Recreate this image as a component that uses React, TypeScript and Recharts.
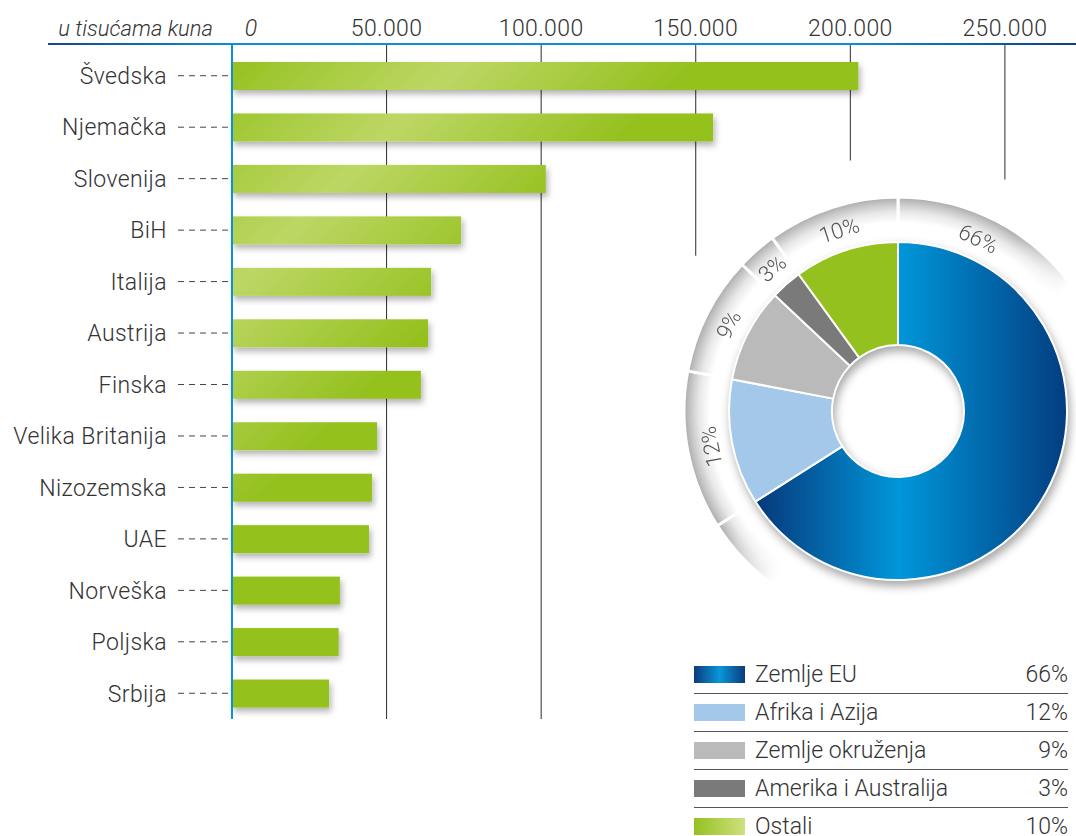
import React from "react";
import { BarChart, Bar, XAxis, YAxis, CartesianGrid, PieChart, Pie, Cell } from "recharts";

// izvoz po zemljama, u tisućama kuna
const countries = [
  "Švedska",
  "Njemačka",
  "Slovenija",
  "BiH",
  "Italija",
  "Austrija",
  "Finska",
  "Velika Britanija",
  "Nizozemska",
  "UAE",
  "Norveška",
  "Poljska",
  "Srbija",
];
const exportValues = [202600, 155600, 101500, 74100, 64400, 63400, 61100, 46900, 45300, 44300, 34900, 34500, 31400];
const xTicks = [0, 50000, 100000, 150000, 200000, 250000];
const axisTitle = "u tisućama kuna";

// udio po regijama
const regions = ["Zemlje EU", "Afrika i Azija", "Zemlje okruženja", "Amerika i Australija", "Ostali"];
const regionShares = [66, 12, 9, 3, 10];

const FONT = '"Roboto", "Liberation Sans", sans-serif';
const TEXT = "#333333";

const sliceFills = ["url(#euGrad)", "#a4c8ea", "#bababa", "#7a7a7a", "#95c11f"];
const swatches = [
  "linear-gradient(90deg, #0b3b7d 0%, #0a96d9 50%, #0b3b7d 100%)",
  "#a4c8ea",
  "#bababa",
  "#7a7a7a",
  "linear-gradient(90deg, #95c11f 0%, #cfe07f 100%)",
];

const barData = countries.map((name, i) => ({ name, value: exportValues[i] }));
const pieData = regions.map((name, i) => ({ name, value: regionShares[i] }));

// donut placement on the page
const PIE_CX = 898;
const PIE_CY = 411;
const PIE_BOX = 460;
const GAP_R = 255; // grid lines stop short of the donut
const CHART_W = 1076;

const fmt = (v: number) => v.toString().replace(/\B(?=(\d{3})+(?!\d))/g, ".");

const TopTick = ({ x, y, payload }: any) => {
  const first = payload.value === 0;
  if (first) {
    return (
      <g>
        <text x={x - 19} y={y - 8} textAnchor="end" fontStyle="italic" fontSize={22} fill={TEXT} fontFamily={FONT} fontWeight={300}>
          {axisTitle}
        </text>
        <text x={x + 19} y={y - 8} textAnchor="middle" fontStyle="italic" fontSize={23} fill={TEXT} fontFamily={FONT} fontWeight={300}>
          {fmt(payload.value)}
        </text>
      </g>
    );
  }
  return (
    <text x={x} y={y - 8} textAnchor="middle" fontSize={23} letterSpacing={0.4} fill={TEXT} fontFamily={FONT} fontWeight={300}>
      {fmt(payload.value)}
    </text>
  );
};

const CountryTick = ({ x, y, payload }: any) => (
  <g>
    <text
      x={x - 65}
      y={y}
      dy="0.36em"
      textAnchor="end"
      fontSize={23}
      letterSpacing={0.4}
      fill={TEXT}
      fontFamily={FONT}
      fontWeight={300}
    >
      {payload.value}
    </text>
    <line x1={x - 54} x2={x - 4} y1={y} y2={y} stroke="#444" strokeWidth={1} strokeDasharray="6 5" />
  </g>
);

const GridLine = (props: any) => {
  const { x1, x2, y1, y2 } = props;
  // no line on the right border of the plot
  if (x1 >= CHART_W - 2) return <g />;
  const dx = x1 - PIE_CX;
  let end = y2;
  if (Math.abs(dx) < GAP_R) end = Math.min(y2, PIE_CY - Math.sqrt(GAP_R * GAP_R - dx * dx));
  return <line x1={x1} x2={x2} y1={y1} y2={end} stroke="#2b2b2b" strokeWidth={1} />;
};

const BarShape = (props: any) => {
  const { x, y, width, height } = props;
  return <rect x={x} y={y} width={width} height={height} fill="url(#barGrad)" filter="url(#barShadow)" />;
};

const renderShareLabel = (props: any) => {
  const { cx, cy, midAngle, startAngle, percent, index } = props;
  // the big slice keeps its label near the top, where the ring is still visible
  const angle = percent > 0.5 ? startAngle - 25 : midAngle;
  const rad = (angle * Math.PI) / 180;
  const r = 190;
  const x = cx + r * Math.cos(rad);
  const y = cy - r * Math.sin(rad);
  return (
    <text
      x={x}
      y={y}
      textAnchor="middle"
      dominantBaseline="central"
      transform={`rotate(${90 - angle} ${x} ${y})`}
      fontSize={22}
      fill="#555"
      fontFamily={FONT}
      fontWeight={300}
    >
      {regionShares[index]}%
    </text>
  );
};

export default function App() {
  const ringMask = "linear-gradient(135deg, #000 0%, #000 44%, transparent 55%)";
  return (
    <div
      style={{
        position: "absolute",
        left: 0,
        top: 0,
        width: CHART_W,
        height: 836,
        overflow: "hidden",
        background: "#fff",
        fontFamily: FONT,
      }}
    >
      <div style={{ position: "absolute", left: 0, top: 0 }}>
        <BarChart
          width={CHART_W}
          height={836}
          data={barData}
          layout="vertical"
          margin={{ top: 14, right: 0, bottom: 117, left: 0 }}
          barSize={28}
        >
          <defs>
            <linearGradient id="barGrad" gradientUnits="userSpaceOnUse" x1="0" y1="0" x2="900" y2="900">
              <stop offset="0.16" stopColor="#95c11f" />
              <stop offset="0.29" stopColor="#bdd765" />
              <stop offset="0.42" stopColor="#95c11f" />
            </linearGradient>
            <filter id="barShadow" x="-5%" y="-40%" width="115%" height="200%">
              <feDropShadow dx="2" dy="4" stdDeviation="3" floodColor="#000" floodOpacity="0.3" />
            </filter>
          </defs>
          <CartesianGrid horizontal={false} vertical={GridLine} />
          <XAxis
            type="number"
            orientation="top"
            domain={[0, 273000]}
            ticks={xTicks}
            height={30}
            axisLine={false}
            tickLine={false}
            tickSize={0}
            tickMargin={0}
            tick={<TopTick />}
            interval={0}
          />
          <YAxis
            type="category"
            dataKey="name"
            width={232}
            axisLine={{ stroke: "#0a92d6", strokeWidth: 2 }}
            tickLine={false}
            tickSize={0}
            tickMargin={0}
            padding={{ top: 6, bottom: 0 }}
            interval={0}
            tick={<CountryTick />}
          />
          <Bar dataKey="value" shape={BarShape} isAnimationActive={false} />
        </BarChart>
      </div>

      {/* top axis rule */}
      <div
        style={{
          position: "absolute",
          left: 48,
          top: 43,
          width: 1028,
          height: 2,
          background: "linear-gradient(90deg, #17478b 0%, #0a8fd4 18%, #0a8fd4 78%, #0d3f85 100%)",
        }}
      />

      {/* outer ring with labels, fading out towards the lower right */}
      <div
        style={{
          position: "absolute",
          left: PIE_CX - PIE_BOX / 2,
          top: PIE_CY - PIE_BOX / 2,
          WebkitMaskImage: ringMask,
          maskImage: ringMask,
        }}
      >
        <PieChart width={PIE_BOX} height={PIE_BOX} margin={{ top: 0, right: 0, bottom: 0, left: 0 }}>
          <defs>
            <radialGradient id="ringGrad" gradientUnits="userSpaceOnUse" cx={PIE_BOX / 2} cy={PIE_BOX / 2} r={214}>
              <stop offset="0.8" stopColor="#ffffff" />
              <stop offset="0.88" stopColor="#ffffff" />
              <stop offset="0.93" stopColor="#e8e8e8" />
              <stop offset="0.97" stopColor="#c6c6c6" />
              <stop offset="1" stopColor="#a9a9a9" />
            </radialGradient>
          </defs>
          <Pie
            data={pieData}
            dataKey="value"
            cx={PIE_BOX / 2}
            cy={PIE_BOX / 2}
            startAngle={90}
            endAngle={-270}
            innerRadius={172}
            outerRadius={214}
            stroke="#fff"
            strokeWidth={3}
            label={renderShareLabel}
            labelLine={false}
            isAnimationActive={false}
          >
            {pieData.map((d) => (
              <Cell key={d.name} fill="url(#ringGrad)" />
            ))}
          </Pie>
        </PieChart>
      </div>

      {/* donut */}
      <div
        style={{
          position: "absolute",
          left: PIE_CX - PIE_BOX / 2,
          top: PIE_CY - PIE_BOX / 2,
          filter: "drop-shadow(2px 5px 5px rgba(0,0,0,0.35))",
        }}
      >
        <PieChart width={PIE_BOX} height={PIE_BOX} margin={{ top: 0, right: 0, bottom: 0, left: 0 }}>
          <defs>
            <linearGradient id="euGrad" x1="0" y1="0" x2="1" y2="0">
              <stop offset="0" stopColor="#06387a" />
              <stop offset="0.46" stopColor="#0097da" />
              <stop offset="1" stopColor="#033d80" />
            </linearGradient>
          </defs>
          <Pie
            data={pieData}
            dataKey="value"
            cx={PIE_BOX / 2}
            cy={PIE_BOX / 2}
            startAngle={90}
            endAngle={-270}
            innerRadius={66}
            outerRadius={169}
            stroke="#fff"
            strokeWidth={2}
            isAnimationActive={false}
          >
            {pieData.map((d, i) => (
              <Cell key={d.name} fill={sliceFills[i]} />
            ))}
          </Pie>
        </PieChart>
      </div>

      {/* legend */}
      <div style={{ position: "absolute", left: 694, top: 656, width: 374 }}>
        {regions.map((name, i) => (
          <div
            key={name}
            style={{
              height: 37,
              display: "flex",
              alignItems: "center",
              borderBottom: i < regions.length - 1 ? "1px solid #555" : "none",
              fontSize: 23,
              lineHeight: "26px",
              fontWeight: 300,
              color: TEXT,
            }}
          >
            <div style={{ width: 51, height: 17, background: swatches[i], marginRight: 10 }} />
            <div style={{ flex: 1 }}>{name}</div>
            <div>{regionShares[i]}%</div>
          </div>
        ))}
      </div>
    </div>
  );
}
